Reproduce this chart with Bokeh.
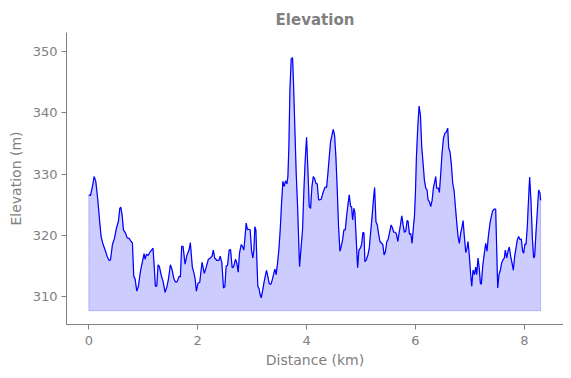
from bokeh.plotting import figure
from bokeh.models import Range1d, FixedTicker
from bokeh.embed import file_html
from bokeh.resources import INLINE

distance_km = [
    0.0, 0.03, 0.067, 0.098, 0.128, 0.165, 0.202, 0.226, 0.263, 0.30, 0.336, 0.373, 0.398, 0.434,
    0.471, 0.508, 0.544, 0.569, 0.587, 0.612, 0.636, 0.673, 0.703, 0.74, 0.777, 0.801, 0.826, 0.85,
    0.881, 0.911, 0.948, 0.985, 1.015, 1.034, 1.058, 1.089, 1.119, 1.144, 1.18, 1.205, 1.223, 1.248,
    1.272, 1.297, 1.327, 1.364, 1.401, 1.437, 1.462, 1.498, 1.529, 1.56, 1.59, 1.621, 1.657, 1.682,
    1.706, 1.731, 1.768, 1.804, 1.841, 1.865, 1.902, 1.927, 1.951, 1.976, 2.006, 2.037, 2.08, 2.122,
    2.159, 2.196, 2.232, 2.263, 2.287, 2.312, 2.355, 2.391,
    2.413, 2.444, 2.474, 2.499, 2.523, 2.548, 2.578, 2.603, 2.634, 2.658, 2.695, 2.719, 2.744, 2.768,
    2.799, 2.824, 2.848, 2.873, 2.891, 2.915, 2.94, 2.964, 2.989, 3.013, 3.032, 3.05, 3.069, 3.087,
    3.105, 3.13, 3.148, 3.167, 3.191, 3.216, 3.24, 3.265, 3.289, 3.314, 3.344, 3.369, 3.393, 3.418,
    3.442, 3.467, 3.491, 3.516, 3.54, 3.565, 3.589, 3.614, 3.638, 3.657, 3.675, 3.694, 3.718, 3.743,
    3.761, 3.786, 3.81, 3.835, 3.853, 3.871, 3.896, 3.926, 3.951, 3.975, 4.0, 4.025, 4.049, 4.074,
    4.098, 4.123, 4.147, 4.172, 4.196, 4.221, 4.245, 4.27, 4.294, 4.319, 4.343, 4.368, 4.392, 4.417,
    4.441, 4.466, 4.49, 4.515, 4.539, 4.564, 4.588, 4.613, 4.637, 4.662, 4.686, 4.711, 4.735, 4.76,
    4.784, 4.809, 4.827, 4.846, 4.87, 4.888, 4.913, 4.938, 4.962, 4.987, 5.011, 5.036, 5.054, 5.072,
    5.097, 5.127, 5.152, 5.176, 5.201, 5.225, 5.25, 5.275, 5.299, 5.324, 5.348,
    5.401, 5.425, 5.45, 5.474, 5.498, 5.523, 5.554, 5.578, 5.602, 5.633, 5.651, 5.676, 5.7, 5.725,
    5.749, 5.774, 5.798, 5.823, 5.847, 5.865, 5.89, 5.914, 5.939, 5.963, 5.982, 6.0, 6.018, 6.043,
    6.067, 6.092, 6.116, 6.141, 6.165, 6.19, 6.214, 6.232, 6.257, 6.281, 6.306, 6.33, 6.355, 6.373,
    6.391, 6.422, 6.44, 6.465, 6.489, 6.514, 6.538, 6.569, 6.593, 6.612, 6.636, 6.661, 6.685, 6.709,
    6.734, 6.758, 6.783, 6.807, 6.832, 6.856, 6.875, 6.899, 6.924, 6.948, 6.966, 6.991, 7.015, 7.034,
    7.058, 7.083, 7.107, 7.125, 7.15, 7.174, 7.193, 7.211, 7.235, 7.266, 7.291, 7.315, 7.339, 7.37,
    7.394, 7.419, 7.45, 7.474, 7.492, 7.511, 7.535, 7.56, 7.584, 7.609, 7.633, 7.651, 7.676, 7.70,
    7.725, 7.749, 7.774, 7.798, 7.823, 7.847, 7.872, 7.896, 7.92, 7.945, 7.969, 7.988, 8.012, 8.031,
    8.055, 8.073, 8.098, 8.122, 8.147, 8.171, 8.19, 8.214, 8.239, 8.263, 8.288, 8.30,
]

elevation_m = [
    326.6, 326.5, 328.0, 329.6, 328.8, 325.8, 322.0, 319.8, 318.5, 317.6, 316.6, 315.9, 316.0, 318.5,
    319.5, 321.2, 322.3, 324.4, 324.6, 323.3, 320.9, 320.4, 319.6, 319.5, 319.0, 318.8, 313.3, 312.9,
    310.9, 311.7, 314.1, 315.7, 317.0, 316.1, 316.9, 316.7, 317.2, 317.5, 317.9, 314.4, 311.7, 311.7,
    315.2, 314.9, 313.6, 312.5, 310.7, 311.7, 312.8, 315.2, 314.4, 313.0, 312.4, 312.4, 313.3, 313.2,
    318.2, 318.2, 315.3, 316.8, 317.6, 318.8, 314.8, 314.0, 313.0, 310.9, 312.2, 312.3, 315.6, 313.8,
    314.9, 316.1, 316.3, 316.6, 317.6, 316.3, 315.9, 315.9,
    316.6, 315.5, 311.4, 311.6, 315.0, 315.1, 317.6, 317.7, 314.7, 314.8, 316.1, 315.5, 314.0, 317.1,
    318.5, 318.2, 317.6, 320.1, 322.0, 320.9, 321.0, 320.9, 317.6, 316.3, 317.6, 321.4, 320.9, 316.0,
    311.7, 311.2, 310.3, 309.8, 310.9, 312.2, 313.3, 314.3, 313.3, 312.1, 312.0, 312.7, 313.6, 314.5,
    313.6, 315.5, 317.6, 320.9, 325.2, 328.8, 328.0, 328.9, 328.4, 329.6, 334.4, 343.7, 348.8, 349.0,
    344.7, 337.2, 330.1, 324.7, 319.8, 314.9, 317.6, 320.9, 327.4, 332.3, 336.0, 330.7, 324.7, 324.4,
    327.9, 329.6, 329.3, 328.5, 328.4, 325.8, 325.8, 325.9, 326.7, 327.4, 327.9, 327.8, 330.1, 332.8,
    335.3, 336.3, 337.3, 336.3, 332.8, 327.4, 321.4, 317.4, 318.2, 319.3, 320.9, 320.9, 323.1, 325.0,
    326.6, 324.7, 324.7, 322.5, 324.4, 323.7, 319.3, 314.7, 317.6, 317.9, 318.5, 320.5, 320.4, 315.7,
    316.0, 316.8, 317.9, 320.4, 322.8, 325.5, 327.8, 322.2, 321.7, 320.2, 319.0,
    318.5, 316.8, 317.4, 319.0, 319.3, 320.4, 321.7, 321.2, 320.5, 320.5, 320.2, 319.0, 320.4, 321.7,
    323.2, 321.7, 320.5, 320.7, 322.4, 322.3, 320.2, 320.3, 318.7, 321.4, 323.1, 326.9, 332.8, 337.7,
    341.1, 339.6, 334.4, 331.7, 329.0, 327.7, 327.4, 325.8, 325.5, 324.7, 325.7, 327.7, 328.8, 329.6,
    327.7, 327.7, 327.0, 330.1, 333.4, 335.8, 336.6, 336.9, 337.5, 334.2, 333.6, 331.5, 328.5, 327.4,
    324.7, 322.2, 319.8, 318.7, 320.4, 321.4, 322.4, 319.8, 317.2, 317.9, 319.0, 316.6, 313.6, 311.7,
    314.3, 313.6, 314.8, 313.6, 316.3, 314.5, 312.2, 312.0, 314.9, 317.1, 318.7, 317.4, 319.8, 322.0,
    323.1, 324.0, 324.3, 324.3, 318.2, 311.4, 313.6, 314.3, 315.5, 316.0, 316.3, 317.6, 316.3, 317.4,
    318.1, 316.6, 315.5, 314.3, 316.6, 317.9, 319.3, 319.8, 319.3, 319.4, 317.4, 317.1, 318.6, 318.5,
    321.4, 325.0, 329.5, 325.8, 319.8, 316.3, 316.6, 320.4, 323.9, 327.4, 326.9, 325.7,
]

fill_base_m = 307.7
x_ticks = [0, 2, 4, 6, 8]
y_ticks = [310, 320, 330, 340, 350]

GRAY = "#808080"
FONT = "DejaVu Sans"

p = figure(width=563, height=370, output_backend="svg", toolbar_location=None,
           x_range=Range1d(-0.41, 8.72), y_range=Range1d(305.45, 353.1),
           min_border_left=66, min_border_right=0, min_border_top=32, min_border_bottom=45,
           title="Elevation")

p.title.align = "center"
p.title.text_font = FONT
p.title.text_font_size = "15px"
p.title.text_font_style = "bold"
p.title.text_color = GRAY
p.title.standoff = 8

p.outline_line_color = None
p.xgrid.visible = False
p.ygrid.visible = False

poly_x = list(distance_km) + [distance_km[-1], distance_km[0]]
poly_y = list(elevation_m) + [fill_base_m, fill_base_m]
p.patch(poly_x, poly_y, fill_color="blue", fill_alpha=0.2, line_color="blue", line_alpha=0.2, line_width=1)
p.line(distance_km, elevation_m, line_color="blue", line_width=1.2)

for ax in (p.xaxis[0], p.yaxis[0]):
    ax.axis_line_color = GRAY
    ax.major_tick_line_color = GRAY
    ax.minor_tick_line_color = None
    ax.major_tick_in = 0
    ax.major_tick_out = 5
    ax.major_label_text_color = GRAY
    ax.major_label_text_font = FONT
    ax.major_label_text_font_size = "13px"
    ax.axis_label_text_color = GRAY
    ax.axis_label_text_font = FONT
    ax.axis_label_text_font_size = "14px"
    ax.axis_label_text_font_style = "normal"

p.xaxis.ticker = FixedTicker(ticks=x_ticks)
p.yaxis.ticker = FixedTicker(ticks=y_ticks)
p.xaxis.axis_label = "Distance (km)"
p.yaxis.axis_label = "Elevation (m)"
p.xaxis.major_label_standoff = 6
p.yaxis.major_label_standoff = 4
p.xaxis.axis_label_standoff = 4
p.yaxis.axis_label_standoff = 6

open("out.html", "w").write(file_html(p, INLINE))
